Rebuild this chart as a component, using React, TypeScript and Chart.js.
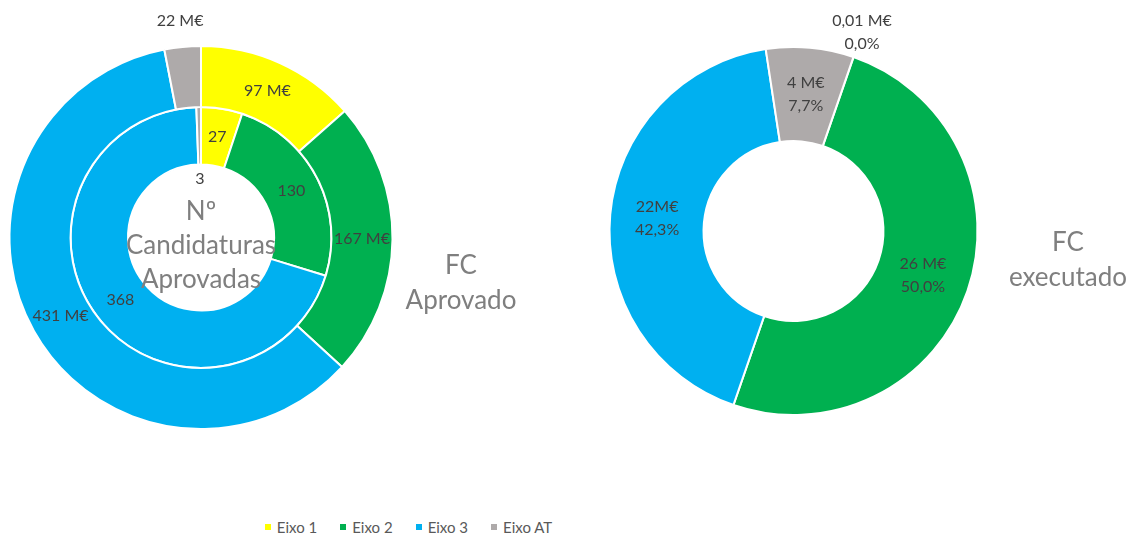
import React, { useEffect, useRef } from "react";
import { Chart, registerables } from "chart.js";

Chart.register(...registerables);

// ---- data ----
const categories = ["Eixo 1", "Eixo 2", "Eixo 3", "Eixo AT"];
const colors = ["#FFFF00", "#00B050", "#00B0F0", "#AEAAAA"];
const fcAprovado = [97, 167, 431, 22]; // M€ (outer ring, left)
const candidaturas = [27, 130, 368, 3]; // Nº candidaturas (inner ring, left)
const fcExecutado = [0.01, 26, 22, 4]; // M€ (right)
const fcExecutadoLabels = ["0,01 M€", "26 M€", "22M€", "4 M€"];
const centerTitle = ["Nº", "Candidaturas", "Aprovadas"];
const leftTitle = ["FC", "Aprovado"];
const rightTitle = ["FC", "executado"];

const FONT = "Lato, 'Noto Sans', sans-serif";
const LABEL_COLOR = "#404040";
const TITLE_COLOR = "#7F7F7F";

type LineFn = (di: number, i: number, value: number, total: number) => string[];

function makeLabelPlugin(getLines: LineFn) {
  return {
    id: "sliceLabels",
    afterDatasetsDraw(chart: any) {
      const ctx = chart.ctx as CanvasRenderingContext2D;
      ctx.save();
      ctx.font = `16px ${FONT}`;
      ctx.fillStyle = LABEL_COLOR;
      ctx.textAlign = "center";
      ctx.textBaseline = "middle";
      const nDs = chart.data.datasets.length;
      chart.data.datasets.forEach((ds: any, di: number) => {
        const meta = chart.getDatasetMeta(di);
        const values = ds.data as number[];
        const total = values.reduce((a, b) => a + b, 0);
        meta.data.forEach((arc: any, i: number) => {
          const p = arc.getProps(
            ["x", "y", "startAngle", "endAngle", "innerRadius", "outerRadius"],
            true
          );
          const mid = (p.startAngle + p.endAngle) / 2;
          const share = values[i] / total;
          let r = (p.innerRadius + p.outerRadius) / 2;
          if (share < 0.04) {
            r = nDs > 1 && di === nDs - 1 ? p.innerRadius - 14 : p.outerRadius + 26;
          }
          const x = p.x + Math.cos(mid) * r;
          const y = p.y + Math.sin(mid) * r;
          const lines = getLines(di, i, values[i], total);
          const lh = 23;
          lines.forEach((t, k) => {
            ctx.fillText(t, x, y + (k - (lines.length - 1) / 2) * lh);
          });
        });
      });
      ctx.restore();
    },
  };
}

function useDoughnut(
  ref: React.RefObject<HTMLCanvasElement | null>,
  build: () => any
) {
  useEffect(() => {
    if (!ref.current) return;
    const chart = new Chart(ref.current, build());
    return () => chart.destroy();
  }, []);
}

export default function App() {
  const leftRef = useRef<HTMLCanvasElement>(null);
  const rightRef = useRef<HTMLCanvasElement>(null);

  useDoughnut(leftRef, () => ({
    type: "doughnut",
    data: {
      labels: categories,
      datasets: [
        {
          label: "FC Aprovado",
          data: fcAprovado,
          backgroundColor: colors,
          borderColor: "#FFFFFF",
          borderWidth: 2,
          weight: 60,
        },
        {
          label: "Nº Candidaturas Aprovadas",
          data: candidaturas,
          backgroundColor: colors,
          borderColor: "#FFFFFF",
          borderWidth: 2,
          weight: 56.5,
        },
      ],
    },
    options: {
      responsive: false,
      animation: false,
      events: [],
      cutout: "38.1%",
      rotation: 0,
      layout: { padding: { left: 8.5, right: 26.5, top: 45, bottom: 30 } },
      plugins: { legend: { display: false }, tooltip: { enabled: false } },
    },
    plugins: [
      makeLabelPlugin((di, _i, v) => (di === 0 ? [`${v} M€`] : [`${v}`])),
    ],
  }));

  useDoughnut(rightRef, () => ({
    type: "doughnut",
    data: {
      labels: categories,
      datasets: [
        {
          label: "FC executado",
          data: fcExecutado,
          backgroundColor: colors,
          borderColor: "#FFFFFF",
          borderWidth: 2,
        },
      ],
    },
    options: {
      responsive: false,
      animation: false,
      events: [],
      cutout: "48.9%",
      rotation: 19,
      layout: { padding: { left: 18.5, right: 21.5, top: 46, bottom: 44 } },
      plugins: { legend: { display: false }, tooltip: { enabled: false } },
    },
    plugins: [
      makeLabelPlugin((_di, i, v, total) => [
        fcExecutadoLabels[i],
        `${((v / total) * 100).toFixed(1).replace(".", ",")}%`,
      ]),
    ],
  }));

  const titleStyle = (left: number, top: number, width: number): React.CSSProperties => ({
    position: "absolute",
    left,
    top,
    width,
    textAlign: "center",
    fontFamily: FONT,
    fontSize: 26,
    lineHeight: "35px",
    color: TITLE_COLOR,
    pointerEvents: "none",
    whiteSpace: "nowrap",
  });

  return (
    <div
      style={{
        position: "fixed",
        left: 0,
        top: 0,
        width: 1141,
        height: 539,
        background: "#FFFFFF",
        overflow: "hidden",
      }}
    >
      <canvas
        ref={leftRef}
        width={420}
        height={460}
        style={{ position: "absolute", left: 0, top: 0 }}
      />
      <canvas
        ref={rightRef}
        width={410}
        height={460}
        style={{ position: "absolute", left: 590, top: 0 }}
      />
      <div style={{ ...titleStyle(101, 193, 200), lineHeight: "34px" }}>
        {centerTitle.map((t) => (
          <div key={t}>{t}</div>
        ))}
      </div>
      <div style={titleStyle(381, 247, 160)}>
        {leftTitle.map((t) => (
          <div key={t}>{t}</div>
        ))}
      </div>
      <div style={titleStyle(988, 224, 160)}>
        {rightTitle.map((t) => (
          <div key={t}>{t}</div>
        ))}
      </div>
      <div
        style={{
          position: "absolute",
          left: 0,
          width: 817,
          top: 518,
          display: "flex",
          justifyContent: "center",
          alignItems: "center",
          fontFamily: FONT,
          fontSize: 15,
          lineHeight: "18px",
          color: "#595959",
        }}
      >
        {categories.map((c, i) => (
          <div
            key={c}
            style={{
              display: "flex",
              alignItems: "center",
              marginRight: i < categories.length - 1 ? 23 : 0,
            }}
          >
            <span
              style={{
                display: "inline-block",
                width: 6,
                height: 6,
                background: colors[i],
                marginRight: 6,
              }}
            />
            <span>{c}</span>
          </div>
        ))}
      </div>
    </div>
  );
}
